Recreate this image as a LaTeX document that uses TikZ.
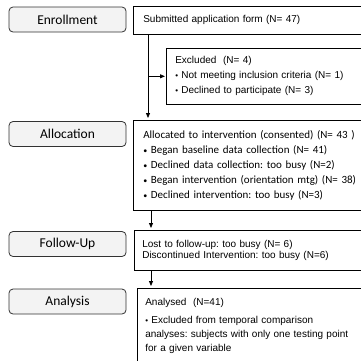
\documentclass[tikz,border=0pt]{standalone}
\usepackage{fontspec}
\setmainfont{Liberation Sans}
\newfontfamily\calfont{Carlito}
\usetikzlibrary{arrows.meta}
\frenchspacing

\newcommand{\bul}{{\footnotesize\textbullet}\ }

\tikzset{
  stage/.style={draw={rgb, 255:red, 50; green, 50; blue, 50 }, line width=0.8pt, rounded corners=4pt, fill={rgb, 255:red, 243; green, 243; blue, 243 }, minimum width=117, minimum height=25, inner sep=0pt, font=\calfont\fontsize{13.5}{15}\selectfont},
  infobox/.style={draw, line width=0.6pt, anchor=north west, align=left, text width=215, inner xsep=10pt},
  arr/.style={-{Triangle[length=5pt,width=4pt]}, line width=0.8pt}
}

\begin{document}
\begin{tikzpicture}[x=1pt,y=1pt,yscale=-1,xscale=1]
\useasboundingbox (0,0) rectangle (361,360);
\clip (0,0) rectangle (361,360);

%Stage labels
\node [stage] (enroll) at (67.5,19.5) {Enrollment};
\node [stage] (alloc) at (67.5,134) {Allocation};
\node [stage] (follow) at (67.5,244) {Follow-Up};
\node [stage] (analysis) at (67.5,301.5) {Analysis};

%Flowchart: Process
\node [infobox, minimum height=28, font=\fontsize{10}{15}\selectfont] (submitted) at (133,6) {Submitted application form (N= 47)};
%Flowchart: Process
\node [infobox, minimum height=56, inner xsep=9pt, font=\fontsize{10}{15}\selectfont] (excluded) at (166,48) {Excluded~ (N= 4)\\
\bul Not meeting inclusion criteria (N= 1)\\
\bul Declined to participate (N= 3)};
%Flowchart: Process
\node [infobox, minimum height=90, font=\calfont\fontsize{11}{15}\selectfont] (allocated) at (133,120) {Allocated to intervention (consented) (N= 43 )\\
\bul Began baseline data collection (N= 41)\\
\bul Declined data collection: too busy (N=2)\\
\bul Began intervention (orientation mtg) (N= 38)\\
\bul Declined intervention: too busy (N=3)};
%Flowchart: Process
\node [infobox, minimum height=40, inner xsep=8pt, font=\fontsize{10}{11.5}\selectfont] (lost) at (134,230) {Lost to follow-up: too busy (N= 6)\\
Discontinued Intervention: too busy (N=6)};
%Flowchart: Process
\node [infobox, inner xsep=8pt, inner ysep=10pt, font=\fontsize{10}{14}\selectfont] (analysed) at (137,288) {Analysed~ (N=41)\\[4pt]
\bul Excluded from temporal comparison\\
analyses: subjects with only one testing point\\
for a given variable\rule[-40pt]{0pt}{0pt}};

%Straight Lines
\coordinate (trunk) at ([xshift=15pt]submitted.south west);
\draw [arr, shorten >=2pt] (trunk) -- ([xshift=15pt]allocated.north west);
\draw [arr, shorten >=1pt] (trunk |- excluded.west) -- (excluded.west);
%Straight Lines
\draw [arr, shorten >=2pt] ([xshift=18pt]allocated.south west) -- ([xshift=17pt]lost.north west);
\draw [arr, shorten >=2pt] ([xshift=17pt]lost.south west) -- ([xshift=14pt]analysed.north west);

\end{tikzpicture}
\end{document}
